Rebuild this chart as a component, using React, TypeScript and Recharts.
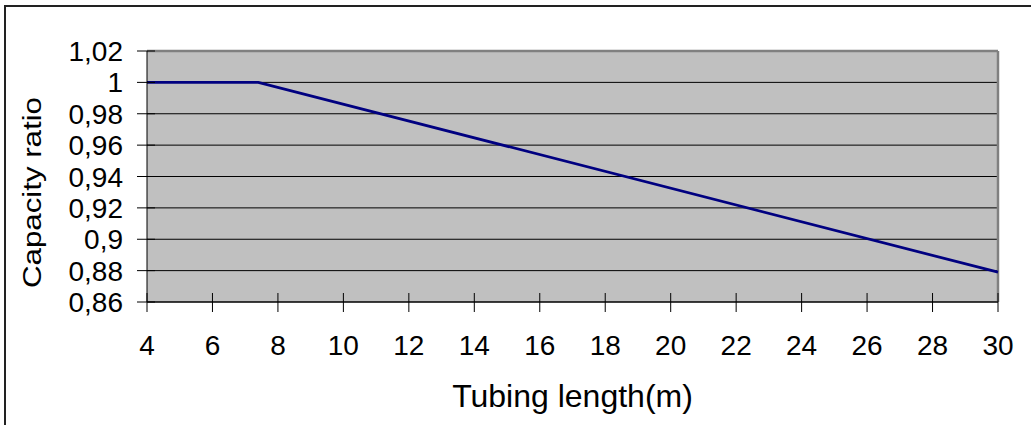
import { LineChart, Line, XAxis, YAxis, CartesianGrid, ReferenceLine } from "recharts";

// tubing length (m) and capacity ratio at the break points of the curve
const tubingLength = [4, 7.4, 30];
const capacityRatio = [1, 1, 0.879];

const xTicks = [4, 6, 8, 10, 12, 14, 16, 18, 20, 22, 24, 26, 28, 30];
const yTicks = [0.86, 0.88, 0.9, 0.92, 0.94, 0.96, 0.98, 1, 1.02];

const data = tubingLength.map((len, i) => ({ len, ratio: capacityRatio[i] }));

const FONT = "'Liberation Sans', Arial, sans-serif";
const fmt = (v: number) => String(v).replace(".", ",");

// x ticks cross the axis line
const XTick = ({ x, y, payload }: any) => (
  <g>
    <line x1={x} x2={x} y1={y - 9} y2={y + 10} stroke="#000" strokeWidth={1} />
    <text x={x} y={y + 53} textAnchor="middle" fontSize={28} fontFamily={FONT} fill="#000">
      {fmt(payload.value)}
    </text>
  </g>
);

const YTick = ({ x, y, payload }: any) => (
  <g>
    <line x1={x - 10} x2={x + 8} y1={y} y2={y} stroke="#000" strokeWidth={1} />
    <text x={x - 24} y={y} dy="0.36em" textAnchor="end" fontSize={28} fontFamily={FONT} fill="#000">
      {fmt(payload.value)}
    </text>
  </g>
);

const XTitle = ({ viewBox }: any) => (
  <text
    x={viewBox.x + viewBox.width / 2}
    y={407}
    textAnchor="middle"
    fontSize={32}
    fontFamily={FONT}
    fill="#000"
  >
    Tubing length(m)
  </text>
);

// rotated title is drawn a bit narrower and longer than the x title
const YTitle = () => (
  <text
    transform="translate(41, 192.5) rotate(-90)"
    textAnchor="middle"
    fontSize={25}
    fontFamily={FONT}
    fill="#000"
    textLength={191}
    lengthAdjust="spacingAndGlyphs"
  >
    Capacity ratio
  </text>
);

export default function App() {
  return (
    <div
      style={{
        position: "absolute",
        left: 0,
        top: 0,
        width: 1031,
        height: 425,
        overflow: "hidden",
        background: "#fff",
        fontFamily: FONT,
      }}
    >
      {/* outer chart frame, runs off the right and bottom edges */}
      <div
        style={{
          position: "absolute",
          left: 4,
          top: 5,
          width: 1100,
          height: 500,
          border: "2px solid #222",
          boxSizing: "border-box",
        }}
      />
      <div style={{ position: "absolute", left: 0, top: 0 }}>
        <LineChart
          width={1031}
          height={425}
          data={data}
          margin={{ top: 51, right: 33, bottom: 0, left: 0 }}
        >
          <CartesianGrid
            vertical={false}
            horizontalValues={yTicks}
            fill="#C0C0C0"
            fillOpacity={1}
            stroke="#000"
            strokeDasharray=""
          />
          <ReferenceLine y={1.02} stroke="#808080" strokeWidth={2.5} />
          <ReferenceLine x={30} stroke="#808080" strokeWidth={2.5} />
          <XAxis
            dataKey="len"
            type="number"
            domain={[4, 30]}
            ticks={xTicks}
            interval={0}
            height={123}
            tickSize={0}
            tickMargin={0}
            tickLine={false}
            axisLine={{ stroke: "#000", strokeWidth: 1 }}
            tick={<XTick />}
            label={XTitle}
          />
          <YAxis
            type="number"
            domain={[0.86, 1.02]}
            ticks={yTicks}
            interval={0}
            width={147}
            tickSize={0}
            tickMargin={0}
            tickLine={false}
            axisLine={{ stroke: "#000", strokeWidth: 1 }}
            tick={<YTick />}
            label={YTitle}
          />
          <Line
            type="linear"
            dataKey="ratio"
            stroke="#000080"
            strokeWidth={2.75}
            dot={false}
            activeDot={false}
            isAnimationActive={false}
          />
        </LineChart>
      </div>
    </div>
  );
}
